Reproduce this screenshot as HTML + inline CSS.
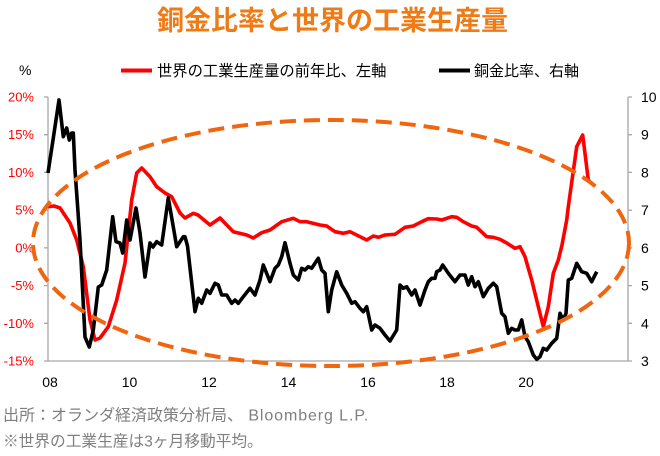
<!DOCTYPE html>
<html><head><meta charset="utf-8"><style>
html,body{margin:0;padding:0;background:#fff;}
svg{display:block;}
text{font-family:"Liberation Sans","Noto Sans CJK JP",sans-serif;}
</style></head><body>
<svg width="660" height="456" viewBox="0 0 660 456" xmlns="http://www.w3.org/2000/svg">
<rect width="660" height="456" fill="#fff"/>
<text x="157" y="30" font-size="27" font-weight="bold" fill="#EE7B16">銅金比率と世界の工業生産量</text>

<text x="19" y="75" font-size="14" fill="#000">%</text>
<line x1="121" y1="70.5" x2="152" y2="70.5" stroke="#FF0000" stroke-width="4"/>
<text x="157" y="76" font-size="15.3" fill="#000">世界の工業生産量の前年比、左軸</text>
<line x1="439" y1="70.5" x2="470" y2="70.5" stroke="#000" stroke-width="4"/>
<text x="474" y="76" font-size="15" fill="#000">銅金比率、右軸</text>

<g stroke="#A6A6A6" stroke-width="1.3" fill="none">
<line x1="48" y1="97" x2="48" y2="361"/>
<line x1="628" y1="97" x2="628" y2="361"/>
<line x1="48" y1="361" x2="628" y2="361"/>
<path d="M44 97H48M44 134.7H48M44 172.4H48M44 210.1H48M44 247.9H48M44 285.6H48M44 323.3H48M44 361H48"/>
<path d="M628 97H632M628 134.7H632M628 172.4H632M628 210.1H632M628 247.9H632M628 285.6H632M628 323.3H632M628 361H632"/>
</g>

<g font-size="13" fill="#FF0000" text-anchor="end">
<text x="34" y="101.5">20%</text>
<text x="34" y="139.2">15%</text>
<text x="34" y="176.9">10%</text>
<text x="34" y="214.6">5%</text>
<text x="34" y="252.4">0%</text>
<text x="34" y="290.1">-5%</text>
<text x="34" y="327.8">-10%</text>
<text x="34" y="365.5">-15%</text>
</g>
<g font-size="14" fill="#000">
<text x="641" y="102">10</text>
<text x="641" y="139.7">9</text>
<text x="641" y="177.4">8</text>
<text x="641" y="215.1">7</text>
<text x="641" y="252.9">6</text>
<text x="641" y="290.6">5</text>
<text x="641" y="328.3">4</text>
<text x="641" y="366">3</text>
</g>
<g font-size="14" fill="#000" text-anchor="middle">
<text x="50" y="387">08</text>
<text x="129.5" y="387">10</text>
<text x="209" y="387">12</text>
<text x="288.5" y="387">14</text>
<text x="368" y="387">16</text>
<text x="447" y="387">18</text>
<text x="526" y="387">20</text>
</g>

<polyline fill="none" stroke="#FF0000" stroke-width="3.6" stroke-linejoin="round" points="48,206.7 54,206 60,208 70,223 76.7,240 83.3,266.7 90,320 95,340 100,338 108.3,326.7 116.7,300 125,263 131.7,200 136.7,173 141.7,168 150,176.7 156.7,186.7 165,193 171.7,196.7 180,213 185,218 193.3,213.3 198,215 210,225 220,218 233.3,231.7 246.7,235 253.3,238 261.7,232.7 270,230 281.7,221.7 293.3,218.3 300,221.7 306.7,221.7 320,225 326.7,226 335,231.7 343.3,233.3 350,231.7 360,236.7 366.7,240 373.3,236 378.3,237.3 385,235 395,234.3 405,227.3 413.3,226 421.7,221.7 428.3,218.7 436.7,219 441.7,220 451.7,216.7 456.7,217.3 463.3,221.7 471.7,226 476.7,227.3 486.7,236.7 493.3,237.3 500,239.3 506.7,243 515,248.3 520,246.7 525,256.7 531.7,280 538.3,306.7 543.3,326.7 548.3,306.7 553.3,273.3 558.3,260 562,245 566.7,220 568.3,206.7 576.7,146.7 582.7,135 588.3,180 591.7,183.3"/>

<polyline fill="none" stroke="#000" stroke-width="3.6" stroke-linejoin="round" points="48,173 53,140 59,100 63.3,136.7 66.7,128 69.3,140 71.7,133 73.3,133 75,170 80,240 85,337 89.3,347 93.3,330 98.3,287 101.7,285 106.7,270 112.7,216.7 116,241.7 120,243 122.7,253 126.7,220 130,240 136,208 140,233 145,277 150,243 153,247 156.7,241.7 161.7,245 168.3,198 176.7,246.7 183.3,236.7 185,236.7 187.5,246 195,311.7 198.3,298.3 201.7,303.3 206.7,290 210,293.3 215,283.3 218.3,285 221.7,295 226.7,295 231.7,303.3 235,300 238.3,303.3 243.3,296.7 250,288.3 255,295 260,280 263.3,265 270,281.7 275,268.3 278.3,265 281.7,256.7 285,242.7 290,263.3 293.3,275 298.3,280 301.7,268.3 305,270 308.3,266.7 311.7,268.3 318.3,258.3 321.7,270 325,273.3 328.3,311.7 331.7,290 336.7,271.7 341.7,285 346.7,293.3 351.7,303.3 355,301.7 360,308.3 363.3,311.7 366.7,306.7 371.7,330 375,325 380,328.3 385,335 390,341 396.7,330 400,285 403.3,288.3 406.7,286.7 411.7,295 415,290 420,305 425,290 428.3,281.7 431.7,278.3 435,278.3 436.7,271.7 440,270 442.7,265 448.3,273.3 455,281.7 460,275 465,275 468.3,285 471.7,276.7 475,286.7 478.3,281.7 483.3,296.7 488.3,288.3 493.3,283.3 496.7,286.7 501.7,313.3 505,316.7 508.3,333.3 511.7,328.3 515,330 518.3,330 521.7,320 525,336.7 528.3,341.7 533.3,355 536.7,359.3 540,356.7 543.3,348.3 546.7,350 551.7,343.3 556.7,338.3 560,313.3 563.3,320 566,313.3 568.3,280 571.7,278.3 576.7,263.3 581.7,271.7 586.7,273.3 591.7,281.7 596.7,271.7"/>

<ellipse cx="331" cy="243" rx="298" ry="123" fill="none" stroke="#F0650F" stroke-width="4" stroke-dasharray="16 8"/>

<text x="3" y="420.5" font-size="16" fill="#7F7F7F">出所：オランダ経済政策分析局、<tspan letter-spacing="0.9"> Bloomberg L.P.</tspan></text>
<text x="3" y="446.5" font-size="15.7" fill="#7F7F7F">※世界の工業生産は3ヶ月移動平均。</text>
</svg>
</body></html>
